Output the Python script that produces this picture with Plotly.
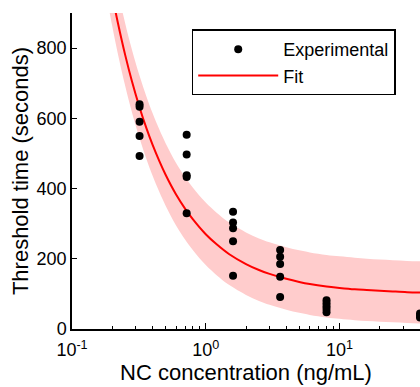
import plotly.graph_objects as go

# Experimental data (NC concentration in ng/mL, threshold time in seconds)
exp_x = [0.32, 0.32, 0.32, 0.32, 0.32,
         0.72, 0.72, 0.72, 0.72, 0.72,
         1.6, 1.6, 1.6, 1.6, 1.6,
         3.6, 3.6, 3.6, 3.6, 3.6,
         8.0, 8.0, 8.0, 8.0, 8.0,
         40, 40, 40]
exp_y = [640, 633, 590, 550, 493,
         553, 497, 438, 433, 330,
         334, 303, 287, 250, 152,
         225, 206, 185, 149, 91,
         82, 73, 65, 57, 48,
         44, 38, 33]

# Fit curve and band
fit_x = [0.17, 0.19, 0.2, 0.22, 0.25, 0.28, 0.32, 0.36, 0.4, 0.45, 0.5, 0.6, 0.7, 0.8,
         1.0, 1.2, 1.5, 2, 2.5, 3, 4, 5, 6, 8, 10, 13, 16, 20, 25, 32, 40]
fit_y = [1100, 995, 950, 873, 780, 707, 631, 572, 525, 478, 440, 383, 343, 313,
         270, 242, 213, 185, 168, 157, 143, 134, 128, 121, 117, 113, 111, 109, 107, 105, 104]
band_upper = [1190, 1085, 1040, 963, 870, 797, 721, 662, 615, 568, 530, 473, 433, 403,
              360, 332, 303, 275, 258, 247, 233, 224, 218, 211, 207, 203, 200, 198, 196, 194, 193]
band_lower = [1012, 907, 862, 785, 692, 619, 543, 484, 437, 390, 352, 295, 255, 225,
              182, 154, 125, 97, 80, 69, 55, 46, 40, 33, 29, 25, 23, 21, 19, 17, 16]

# Axis ticks
x_tickvals = [0.1, 1, 10]
x_ticktext = ["10<sup>-1</sup>", "10<sup>0</sup>", "10<sup>1</sup>"]
y_tickvals = [0, 200, 400, 600, 800]

FONT = "Liberation Sans, Arial, sans-serif"

fig = go.Figure()
fig.add_trace(go.Scatter(x=fit_x, y=band_lower, mode="lines", line=dict(width=0, shape="spline"),
                         showlegend=False, hoverinfo="skip"))
fig.add_trace(go.Scatter(x=fit_x, y=band_upper, mode="lines", line=dict(width=0, shape="spline"),
                         fill="tonexty", fillcolor="rgb(255,204,204)",
                         showlegend=False, hoverinfo="skip"))
fig.add_trace(go.Scatter(x=fit_x, y=fit_y, mode="lines", name="Fit",
                         line=dict(color="red", width=2, shape="spline"), legendrank=2))
fig.add_trace(go.Scatter(x=exp_x, y=exp_y, mode="markers", name="Experimental",
                         marker=dict(color="black", size=8), legendrank=1))

fig.update_layout(
    width=420, height=387,
    margin=dict(l=72, r=0, t=13, b=58),
    paper_bgcolor="white", plot_bgcolor="white",
    font=dict(family=FONT, size=18, color="black"),
    showlegend=True,
    legend=dict(x=0.344, y=0.948, xanchor="left", yanchor="top",
                traceorder="normal", tracegroupgap=0,
                bgcolor="white", bordercolor="black", borderwidth=1.5,
                itemwidth=80, font=dict(size=18)),
    xaxis=dict(type="log", range=[-1, 1.602],
               tickvals=x_tickvals, ticktext=x_ticktext,
               showline=True, linecolor="black", linewidth=1.5,
               ticks="inside", ticklen=6, tickwidth=1.2, tickcolor="black",
               showgrid=False, zeroline=False,
               minor=dict(ticks="inside", ticklen=3, dtick="D1", tickcolor="black", showgrid=False),
               title=dict(text="NC concentration (ng/mL)", standoff=4),
               ticklabelstandoff=4,
               tickfont=dict(size=18)),
    yaxis=dict(range=[0, 900], tickvals=y_tickvals,
               showline=True, linecolor="black", linewidth=1.5,
               ticks="inside", ticklen=5, tickwidth=1.2, tickcolor="black",
               showgrid=False, zeroline=False,
               title=dict(text="Threshold time (seconds)", standoff=2),
               tickfont=dict(size=18)),
)

fig.write_html("out.html",
               config={"displayModeBar": False},
               post_script="document.body.style.margin='0';document.body.style.overflow='hidden';")
